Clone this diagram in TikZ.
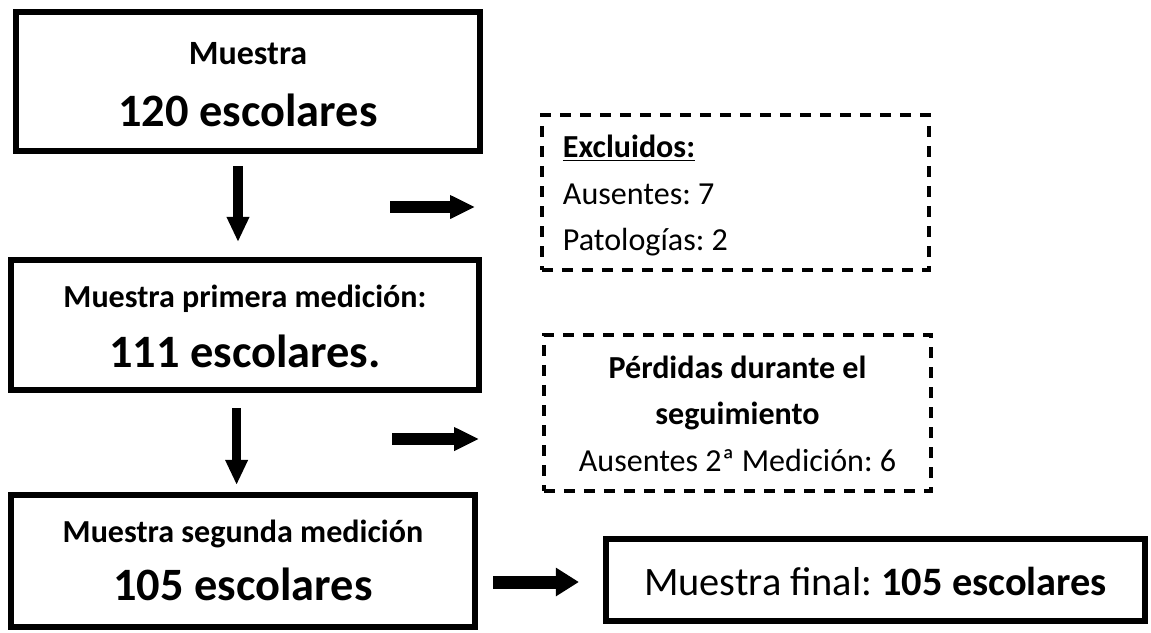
\documentclass[tikz,border=0pt]{standalone}
\usepackage{fontspec}
\setmainfont{Carlito}
\usetikzlibrary{arrows.meta}
\newcommand\countfont{\fontsize{33}{\the\baselineskip}\selectfont\bfseries}
\begin{document}
\frenchspacing
\begin{tikzpicture}[x=0.025cm,y=-0.025cm,
  mainbox/.style={draw,line width=0.15cm,inner sep=0pt,align=center,text depth=0pt},
  lossbox/.style={draw,line width=0.0875cm,dash pattern=on 0.275cm off 0.225cm,
    inner sep=0pt,font=\fontsize{22.8}{32.8}\selectfont},
  downarr/.style={line width=0.225cm,-{Triangle[length=0.625cm,width=0.525cm]}},
  sidearr/.style={line width=0.3cm,-{Triangle[length=0.625cm,width=0.55cm]}}]
\useasboundingbox (0,0) rectangle (1151,632);

% main boxes
\node[mainbox,minimum width=11.6cm,minimum height=3.475cm,text height=2.225cm,
  font=\fontsize{24.2}{43.4}\selectfont\bfseries] (sample) at (248,81.5)
  {Muestra\\{\countfont 120 escolares}};
\node[mainbox,minimum width=11.7cm,minimum height=3.25cm,text height=2.1cm,
  font=\fontsize{22.8}{42}\selectfont\bfseries] (first) at (245,325)
  {Muestra primera medición:\\{\countfont 111 escolares.}};
\node[mainbox,minimum width=11.6cm,minimum height=3.3cm,text height=1.95cm,
  font=\fontsize{22.8}{40.8}\selectfont\bfseries] (second) at (243,561)
  {Muestra segunda medición\\{\countfont 105 escolares}};
\node[mainbox,minimum width=13.475cm,minimum height=2.05cm,text height=0.75cm,
  font=\fontsize{28.7}{34}\selectfont] (final) at (875.5,580)
  {Muestra final: \textbf{105 escolares}};

% dashed boxes
\node[lossbox,minimum height=3.875cm,text height=0pt,text depth=1.725cm,
  inner xsep=0.525cm,text width=8.625cm,align=left] (excl) at (735.5,192.5)
  {\spaceskip=0pt\xspaceskip=0pt
   \textbf{\underline{Excluidos:}}\\Ausentes: 7\\Patologías: 2};
\node[lossbox,minimum width=9.675cm,minimum height=3.9cm,text height=2.9cm,
  text depth=0pt,align=center] (lost) at (737.5,413)
  {\textbf{Pérdidas durante el}\\\textbf{seguimiento}\\Ausentes 2ª Medición: 6};

% arrows
\path ([xshift=-0.25cm]sample.south) coordinate (d1);
\path ([xshift=-0.21cm]first.south) coordinate (d2);
\draw[downarr,shorten <=0.3cm,shorten >=0.375cm] (d1) -- (d1 |- first.north);
\draw[downarr,shorten <=0.375cm,shorten >=0.175cm] (d2) -- (d2 |- second.north);
\coordinate (x1) at (390,207);
\coordinate (x2) at (392,439);
\draw[sidearr,shorten >=1.625cm] (x1) -- (x1 -| excl.west);
\draw[sidearr,shorten >=1.575cm] (x2) -- (x2 -| lost.west);
\draw[line width=0.325cm,-{Triangle[length=0.575cm,width=0.675cm]},
  shorten <=0.375cm,shorten >=0.6cm] (second.east |- 0,582) -- (final.west |- 0,582);

\end{tikzpicture}
\end{document}
